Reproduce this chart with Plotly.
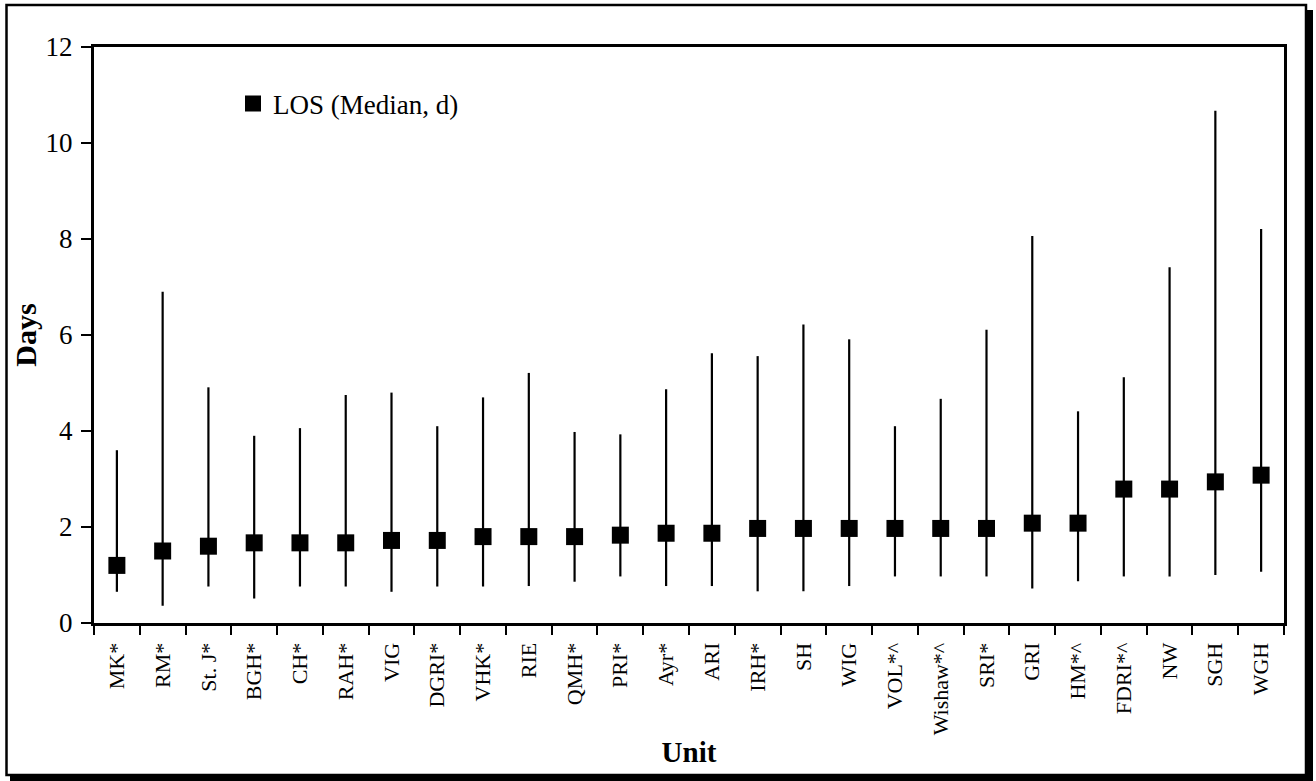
import plotly.graph_objects as go

units = ["MK*", "RM*", "St. J*", "BGH*", "CH*", "RAH*", "VIG", "DGRI*", "VHK*", "RIE",
         "QMH*", "PRI*", "Ayr*", "ARI", "IRH*", "SH", "WIG", "VOL*^", "Wishaw*^", "SRI*",
         "GRI", "HM*^", "FDRI*^", "NW", "SGH", "WGH"]
median_los = [1.2, 1.5, 1.6, 1.67, 1.67, 1.67, 1.72, 1.72, 1.8, 1.8,
              1.8, 1.83, 1.87, 1.87, 1.97, 1.97, 1.97, 1.97, 1.97, 1.97,
              2.08, 2.08, 2.79, 2.79, 2.94, 3.08]
low_los = [0.65, 0.36, 0.76, 0.51, 0.76, 0.76, 0.65, 0.76, 0.76, 0.77,
           0.86, 0.97, 0.77, 0.77, 0.66, 0.66, 0.77, 0.97, 0.97, 0.97,
           0.72, 0.87, 0.97, 0.97, 1.0, 1.07]
high_los = [3.6, 6.9, 4.91, 3.9, 4.06, 4.75, 4.8, 4.1, 4.7, 5.21,
            3.98, 3.93, 4.87, 5.62, 5.56, 6.22, 5.91, 4.1, 4.67, 6.11,
            8.06, 4.41, 5.12, 7.41, 10.67, 8.21]
y_ticks = [0, 2, 4, 6, 8, 10, 12]

err_plus = [h - m for h, m in zip(high_los, median_los)]
err_minus = [m - l for m, l in zip(median_los, low_los)]

FONT = "Liberation Serif, Times New Roman, serif"

fig = go.Figure()
fig.add_trace(go.Scatter(
    x=units, y=median_los, mode="markers", name="LOS (Median, d)",
    marker=dict(symbol="square", size=17, color="black", line=dict(width=0)),
    error_y=dict(type="data", symmetric=False, array=err_plus, arrayminus=err_minus,
                 color="black", thickness=2.2, width=0),
))

W, H = 1316, 781
L, R, T, B = 94, 32, 47, 158
pw, ph = W - L - R, H - T - B

def px(x):
    return (x - L) / pw

def py(y):
    return (H - B - y) / ph

shapes = [
    dict(type="rect", xref="paper", yref="paper", x0=px(6.5), x1=px(1306), y0=py(775), y1=py(5),
         line=dict(color="black", width=2.5), fillcolor="rgba(0,0,0,0)", layer="above"),
    dict(type="rect", xref="paper", yref="paper", x0=px(1306), x1=px(1313), y0=py(781), y1=py(10),
         line=dict(width=0), fillcolor="black", layer="above"),
    dict(type="rect", xref="paper", yref="paper", x0=px(10), x1=px(1313), y0=py(781), y1=py(775),
         line=dict(width=0), fillcolor="black", layer="above"),
]

fig.update_layout(
    width=W, height=H,
    margin=dict(l=L, r=R, t=T, b=B, autoexpand=False),
    paper_bgcolor="white", plot_bgcolor="white",
    font=dict(family=FONT, color="black"),
    showlegend=True,
    legend=dict(x=px(233), xanchor="left", y=py(104), yanchor="middle",
                font=dict(size=27, family=FONT), bgcolor="rgba(0,0,0,0)"),
    shapes=shapes,
    xaxis=dict(
        type="category", range=[-0.5, len(units) - 0.5],
        showline=True, linecolor="black", linewidth=3, mirror=True,
        ticks="outside", tickson="boundaries", ticklen=9, tickwidth=2, tickcolor="black",
        tickangle=-90, tickfont=dict(size=22, family=FONT), ticklabelstandoff=8,
        showgrid=False, zeroline=False,
        title=dict(text="<b>Unit</b>", font=dict(size=29, family=FONT), standoff=8),
    ),
    yaxis=dict(
        range=[0, 12], tickvals=y_ticks,
        showline=True, linecolor="black", linewidth=3, mirror=True,
        ticks="outside", ticklen=10, tickwidth=2, tickcolor="black",
        tickfont=dict(size=27, family=FONT), ticklabelstandoff=3,
        showgrid=False, zeroline=False,
        title=dict(text="<b>Days</b>", font=dict(size=30, family=FONT), standoff=1),
    ),
)

fig.write_html("out.html")
